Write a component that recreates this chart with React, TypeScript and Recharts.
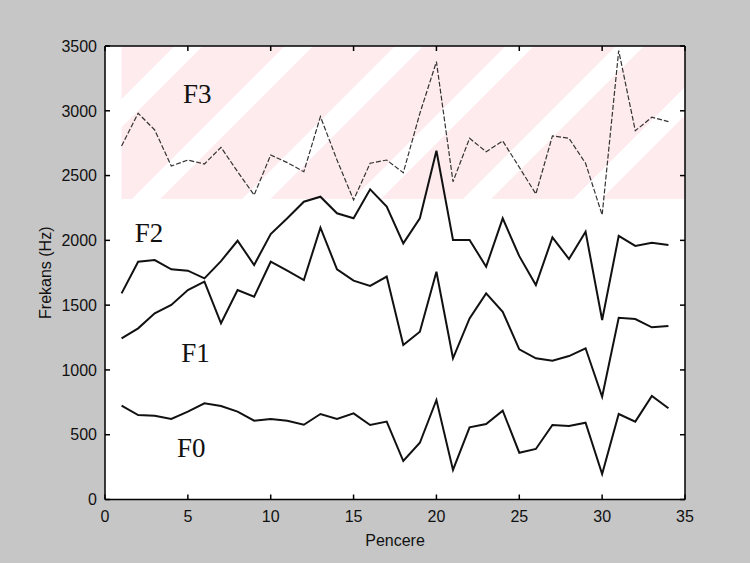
import { LineChart, Line, XAxis, YAxis, ReferenceArea, ReferenceDot, ReferenceLine } from 'recharts'

const pencere = [1, 2, 3, 4, 5, 6, 7, 8, 9, 10, 11, 12, 13, 14, 15, 16, 17, 18, 19, 20, 21, 22, 23, 24, 25, 26, 27, 28, 29, 30, 31, 32, 33, 34]
const f0 = [724, 652, 647, 621, 678, 742, 722, 678, 608, 621, 608, 577, 660, 621, 665, 575, 601, 297, 438, 768, 228, 557, 583, 686, 361, 390, 575, 567, 593, 197, 660, 601, 799, 704]
const f1 = [1244, 1321, 1437, 1501, 1617, 1681, 1360, 1617, 1565, 1835, 1766, 1694, 2098, 1777, 1689, 1648, 1720, 1192, 1295, 1758, 1090, 1398, 1591, 1449, 1159, 1090, 1071, 1107, 1167, 793, 1403, 1393, 1329, 1339]
const f2 = [1591, 1835, 1848, 1777, 1766, 1707, 1840, 1997, 1810, 2049, 2170, 2298, 2337, 2209, 2170, 2394, 2260, 1977, 2170, 2692, 2003, 2003, 1797, 2170, 1878, 1655, 2023, 1856, 2067, 1385, 2034, 1957, 1982, 1964]
const f3 = [2728, 2981, 2852, 2574, 2620, 2589, 2718, 2530, 2350, 2659, 2600, 2530, 2955, 2620, 2312, 2595, 2620, 2522, 2980, 3379, 2453, 2788, 2684, 2767, 2564, 2358, 2806, 2788, 2595, 2196, 3464, 2846, 2950, 2916]

const xTicks = [0, 5, 10, 15, 20, 25, 30, 35]
const yTicks = [0, 500, 1000, 1500, 2000, 2500, 3000, 3500]

// series labels: [text, x, y]
const etiketler: [string, number, number][] = [
  ['F3', 4.7, 3060],
  ['F2', 1.8, 1987],
  ['F1', 4.6, 1058],
  ['F0', 4.35, 327],
]

const data = pencere.map((p, i) => ({ p, f0: f0[i], f1: f1[i], f2: f2[i], f3: f3[i] }))

const W = 750
const H = 563
const M = { top: 46, right: 65, bottom: 0, left: 0 }
const YW = 105
const XH = 63.5
const PW = W - M.left - M.right - YW // plot width
const PH = H - M.top - M.bottom - XH // plot height

const tickFont = { fontFamily: 'Liberation Sans, Arial, sans-serif', fontSize: 16, fill: '#111' }

// matlab style: ticks point inward on both sides of the box
function LeftTick({ x, y, payload }: any) {
  return (
    <g>
      <line x1={x} y1={y} x2={x + 5} y2={y} stroke="#000" strokeWidth={1.5} />
      <line x1={x + PW} y1={y} x2={x + PW - 5} y2={y} stroke="#000" strokeWidth={1.5} />
      <text x={x - 8} y={y} dy="0.36em" textAnchor="end" {...tickFont}>{payload.value}</text>
    </g>
  )
}

function BottomTick({ x, y, payload }: any) {
  return (
    <g>
      <line x1={x} y1={y} x2={x} y2={y - 5} stroke="#000" strokeWidth={1.5} />
      <line x1={x} y1={y - PH} x2={x} y2={y - PH + 5} stroke="#000" strokeWidth={1.5} />
      <text x={x} y={y + 22} textAnchor="middle" {...tickFont}>{payload.value}</text>
    </g>
  )
}

export default function App() {
  return (
    <div style={{ position: 'absolute', left: 0, top: 0, width: W, height: H, background: '#c6c6c6' }}>
      <LineChart width={W} height={H} data={data} margin={M}>
        <defs>
          <pattern id="cizgi" width="78" height="78" patternUnits="userSpaceOnUse" patternTransform="rotate(45)">
            <rect x="0" y="0" width="78" height="78" fill="#fdebee" />
            <rect x="0" y="0" width="20" height="78" fill="#ffffff" />
          </pattern>
        </defs>
        <rect x={M.left + YW} y={M.top} width={PW} height={PH} fill="#ffffff" />
        <XAxis
          dataKey="p"
          type="number"
          domain={[0, 35]}
          ticks={xTicks}
          height={XH}
          tickSize={0}
          tickMargin={0}
          tick={<BottomTick />}
          tickLine={false}
          axisLine={{ stroke: '#000', strokeWidth: 1.5 }}
          label={{ value: 'Pencere', position: 'insideBottom', offset: 17, style: tickFont }}
        />
        <YAxis
          type="number"
          domain={[0, 3500]}
          ticks={yTicks}
          width={YW}
          tickSize={0}
          tickMargin={0}
          tick={<LeftTick />}
          tickLine={false}
          axisLine={{ stroke: '#000', strokeWidth: 1.5 }}
          label={(props: any) => {
            const vb = props.viewBox
            const cx = vb.x + vb.width - 60
            const cy = vb.y + vb.height / 2
            return (
              <text x={cx} y={cy} dy="0.36em" textAnchor="middle" transform={`rotate(-90, ${cx}, ${cy})`} {...tickFont}>
                Frekans (Hz)
              </text>
            )
          }}
        />
        <ReferenceArea x1={1} x2={35} y1={2320} y2={3500} fill="url(#cizgi)" fillOpacity={1} stroke="none" />
        <ReferenceLine y={3500} stroke="#000" strokeWidth={1.5} />
        <ReferenceLine x={35} stroke="#000" strokeWidth={1.5} />
        <Line dataKey="f0" stroke="#111" strokeWidth={2} dot={false} isAnimationActive={false} />
        <Line dataKey="f1" stroke="#111" strokeWidth={2} dot={false} isAnimationActive={false} />
        <Line dataKey="f2" stroke="#111" strokeWidth={2} dot={false} isAnimationActive={false} />
        <Line dataKey="f3" stroke="#333" strokeWidth={1.2} strokeDasharray="5 2" dot={false} isAnimationActive={false} />
        {etiketler.map(([t, x, y]) => (
          <ReferenceDot
            key={t}
            x={x}
            y={y}
            r={0}
            shape={(p: any) => (
              <text x={p.cx} y={p.cy} fontFamily="Liberation Serif, Times New Roman, serif" fontSize={27} fill="#111">
                {t}
              </text>
            )}
          />
        ))}
      </LineChart>
    </div>
  )
}
